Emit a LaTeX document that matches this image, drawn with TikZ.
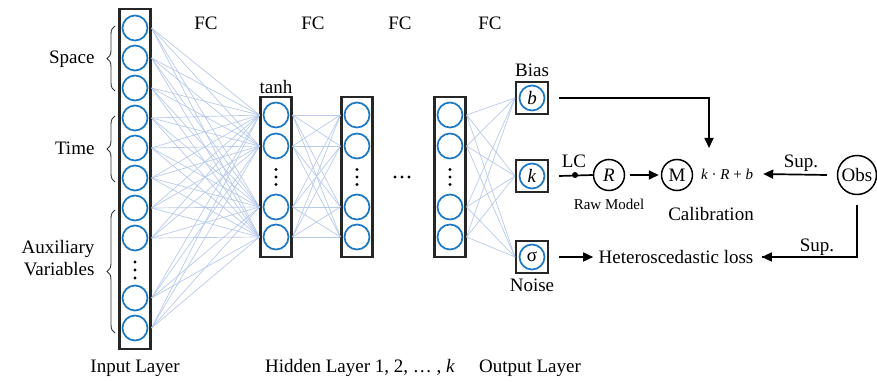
\documentclass[tikz,border=0pt]{standalone}
\usepackage{fontspec}
\setmainfont{Liberation Serif}
\usetikzlibrary{arrows.meta,decorations.pathreplacing,calc}
\definecolor{nblue}{RGB}{28,120,196}
\definecolor{lblue}{RGB}{184,202,234}
\begin{document}
\begin{tikzpicture}[x=1pt,y=-1pt,
  font=\fontsize{19}{22}\selectfont,
  neuron/.style={circle, draw=nblue, line width=1.7pt, minimum size=25pt, inner sep=0pt},
  layerbox/.style={draw=black!85, line width=2.1pt, minimum width=31pt, inner sep=0pt},
  conn/.style={draw=lblue, line width=0.7pt},
  arr/.style={-{Triangle[length=10pt,width=9pt]}, line width=1.7pt},
  plain/.style={line width=1.7pt},
  bigcirc/.style={circle, draw, line width=1.5pt, minimum size=31pt, inner sep=0pt},
  bracestyle/.style={decorate, decoration={brace, amplitude=8pt}, line width=0.9pt, draw=black!80},
  small/.style={font=\fontsize{15}{18}\selectfont},
  vdot/.style={circle, fill=black, inner sep=0pt, minimum size=3.2pt}
]
\useasboundingbox (0,0) rectangle (877,382);

% ---------- input layer ----------
\node[layerbox, minimum height=340pt] (inbox) at (135,179) {};
\foreach \yy [count=\i from 0] in {28,58,88,118,148,178,208,238,298,328}
  \node[neuron] (in\i) at (135,\yy) {};
\node[vdot] (ind1) at (135,262) {};
\node[vdot] (ind2) at (135,270) {};
\node[vdot] (ind3) at (135,278) {};

% ---------- hidden layers ----------
\foreach \L/\xx in {1/276,2/357,3/450}{
  \node[layerbox, minimum height=160pt] (h\L box) at (\xx,177) {};
  \foreach \yy [count=\i from 0] in {115,146,207,237}
    \node[neuron] (h\L n\i) at (\xx,\yy) {};
  \node[vdot] (h\L d1) at (\xx,169.5) {};
  \node[vdot] (h\L d2) at (\xx,177) {};
  \node[vdot] (h\L d3) at (\xx,184.5) {};
}
\node[vdot] (hd1) at (395,177) {};
\node[vdot] (hd2) at (402,177) {};
\node[vdot] (hd3) at (409,177) {};

% ---------- output layer ----------
\foreach \nm/\yy/\txt in {b/98/\textit{b}, k/176/\textit{k}, s/257/σ}{
  \node[layerbox, minimum height=32pt, minimum width=32pt] (\nm box) at (532,\yy) {};
  \node[neuron] (\nm n) at (532,\yy) {\txt};
}

% ---------- fully connected lines ----------
\foreach \i in {0,...,9}
  \foreach \j in {0,...,3}
    \draw[conn] (inbox.east |- in\i) -- (h1box.west |- h1n\j);
\foreach \i in {0,...,3}
  \foreach \j in {0,...,3}
    \draw[conn] (h1box.east |- h1n\i) -- (h2box.west |- h2n\j);
\foreach \i in {0,...,3}
  \foreach \nm in {b,k,s}
    \draw[conn] (h3box.east |- h3n\i) -- (\nm box.west);

% ---------- braces and input labels ----------
\coordinate (spB) at (115,91);  \coordinate (spT) at (115,26);
\coordinate (tiB) at (115,182); \coordinate (tiT) at (115,116);
\coordinate (auB) at (115,333); \coordinate (auT) at (115,210);
\draw[bracestyle] (spB) -- (spT);
\draw[bracestyle] (tiB) -- (tiT);
\draw[bracestyle] (auB) -- (auT);
\node[anchor=east] (space) at (98,59) {Space};
\node[anchor=east] (time) at (98,148) {Time};
\node[anchor=east, align=right] (aux) at (98,258) {Auxiliary\\Variables};

% ---------- top labels ----------
\foreach \xx [count=\i] in {206,313,400,490}
  \node (fc\i) at (\xx,23) {FC};
\node (tanh) at (276,87) {tanh};
\node (biaslab) at (532,70) {Bias};
\node (noiselab) at (532,285) {Noise};

% ---------- bottom labels ----------
\node (inlab) at (135,368) {Input Layer};
\node (hidlab) at (360,368) {Hidden Layer 1, 2, … , \textit{k}};
\node (outlab) at (530,368) {Output Layer};

% ---------- calibration part ----------
\node[bigcirc] (R) at (609,175) {\textit{R}};
\node[bigcirc] (M) at (677,175) {M};
\node[small, inner sep=2pt] (formula) at (727,174) {\textit{k} · \textit{R} + \textit{b}};
\node (calib) at (711,214) {Calibration};
\node[small] (raw) at (609,204) {Raw Model};
\node[circle, draw, line width=1.5pt, minimum size=39pt, inner sep=0pt] (obs) at (857,175) {Obs};
\node (loss) at (676,257) {Heteroscedastic loss};
\node (sup1) at (801,163) {Sup.};
\node (sup2) at (817,247) {Sup.};
\node[vdot, minimum size=6pt] (lcdot) at (575,175) {};
\node (lc) at (574,161) {LC};
\coordinate (calin) at (709,148);

\draw[arr] ([xshift=10pt]bbox.east) -| (calin);
\draw[plain] ([xshift=10pt]kbox.east) -- (R.west);
\draw[arr] ([xshift=5pt]R.east) -- ([xshift=-2pt]M.west);
\draw[arr] ([xshift=-10pt]obs.west) -- ([xshift=8pt]formula.east);
\draw[plain] ([yshift=-10pt]obs.south) |- ([xshift=5pt]loss.east);
\draw[arr] ($(obs.south |- loss.east)+(0.85,0)$) -- ([xshift=5pt]loss.east);
\draw[arr] ([xshift=10pt]sbox.east) -- ([xshift=-2pt]loss.west);
\end{tikzpicture}
\end{document}
